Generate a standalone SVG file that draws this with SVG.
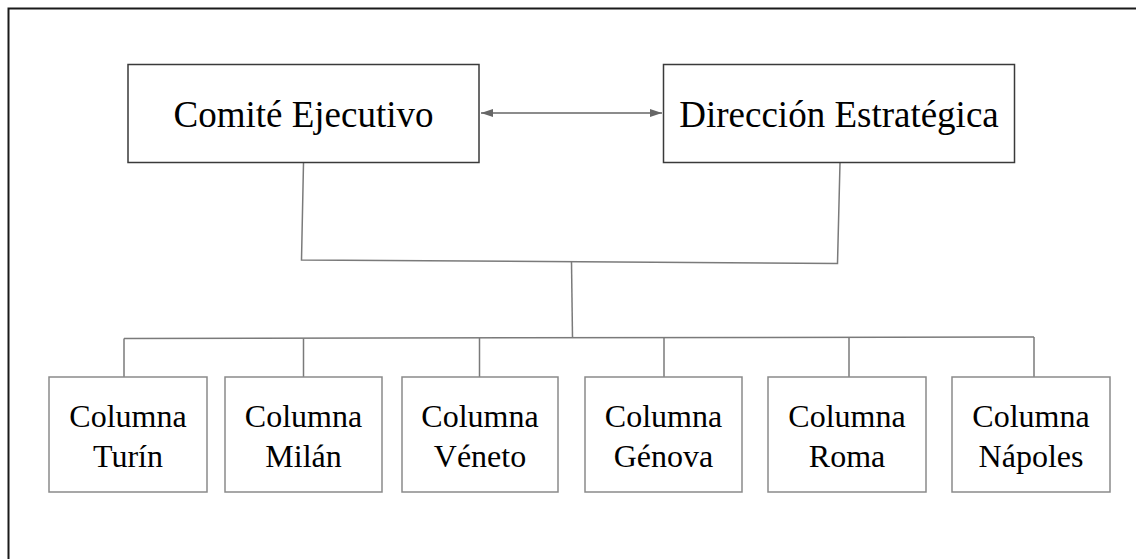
<svg xmlns="http://www.w3.org/2000/svg" width="1136" height="559" viewBox="0 0 1136 559">
<style>
.top{fill:#fff;stroke:#3a3a3a;stroke-width:1.5}
.bot{fill:#fff;stroke:#8a8a8a;stroke-width:1.5}
.t1{font-family:"Liberation Serif","Times New Roman",serif;font-size:37px;fill:#000;text-anchor:middle}
.t2{font-family:"Liberation Serif","Times New Roman",serif;font-size:32px;fill:#000;text-anchor:middle}
.c{fill:none;stroke:#7a7a7a;stroke-width:1.5}
.frame{fill:none;stroke:#1a1a1a;stroke-width:2}
</style>
<defs>
<marker id="ah" viewBox="0 0 12 8" refX="12" refY="4" markerWidth="12" markerHeight="8" markerUnits="userSpaceOnUse" orient="auto-start-reverse">
<path d="M0,0 L12,4 L0,8 z" fill="#666"/>
</marker>
</defs>
<rect width="1136" height="559" fill="#fff"/>
<path class="frame" d="M8.5,559 L8.5,8.5 L1136,8.5"/>
<g id="connectors">
<line x1="481" y1="113" x2="662" y2="113" stroke="#666" stroke-width="1.5" marker-start="url(#ah)" marker-end="url(#ah)"/>
<polyline class="c" points="303.5,163 301.5,260 837.5,263.5 840,163"/>
<line class="c" x1="571.5" y1="262" x2="572.5" y2="338"/>
<line class="c" x1="124" y1="338.5" x2="1034" y2="337"/>
<line class="c" x1="124" y1="338.5" x2="124" y2="377"/>
<line class="c" x1="303.5" y1="338.5" x2="303.5" y2="377"/>
<line class="c" x1="479.5" y1="338" x2="479.5" y2="377"/>
<line class="c" x1="664" y1="338" x2="664" y2="377"/>
<line class="c" x1="849" y1="337" x2="849" y2="377"/>
<line class="c" x1="1034" y1="337" x2="1034" y2="377"/>
</g>
<g id="comite">
<rect class="top" x="128" y="64.5" width="351" height="98"/>
<text class="t1" x="303.5" y="127">Comité Ejecutivo</text>
</g>
<g id="direccion">
<rect class="top" x="663.5" y="64.5" width="351" height="98"/>
<text class="t1" x="839" y="127">Dirección Estratégica</text>
</g>
<g id="turin">
<rect class="bot" x="49" y="377" width="158" height="115"/>
<text class="t2" x="128" y="427">Columna</text>
<text class="t2" x="128" y="467">Turín</text>
</g>
<g id="milan">
<rect class="bot" x="225" y="377" width="157" height="115"/>
<text class="t2" x="303.5" y="427">Columna</text>
<text class="t2" x="303.5" y="467">Milán</text>
</g>
<g id="veneto">
<rect class="bot" x="402" y="377" width="156" height="115"/>
<text class="t2" x="480" y="427">Columna</text>
<text class="t2" x="480" y="467">Véneto</text>
</g>
<g id="genova">
<rect class="bot" x="585" y="377" width="157" height="115"/>
<text class="t2" x="663.5" y="427">Columna</text>
<text class="t2" x="663.5" y="467">Génova</text>
</g>
<g id="roma">
<rect class="bot" x="768" y="377" width="158" height="115"/>
<text class="t2" x="847" y="427">Columna</text>
<text class="t2" x="847" y="467">Roma</text>
</g>
<g id="napoles">
<rect class="bot" x="952" y="377" width="158" height="115"/>
<text class="t2" x="1031" y="427">Columna</text>
<text class="t2" x="1031" y="467">Nápoles</text>
</g>
</svg>
